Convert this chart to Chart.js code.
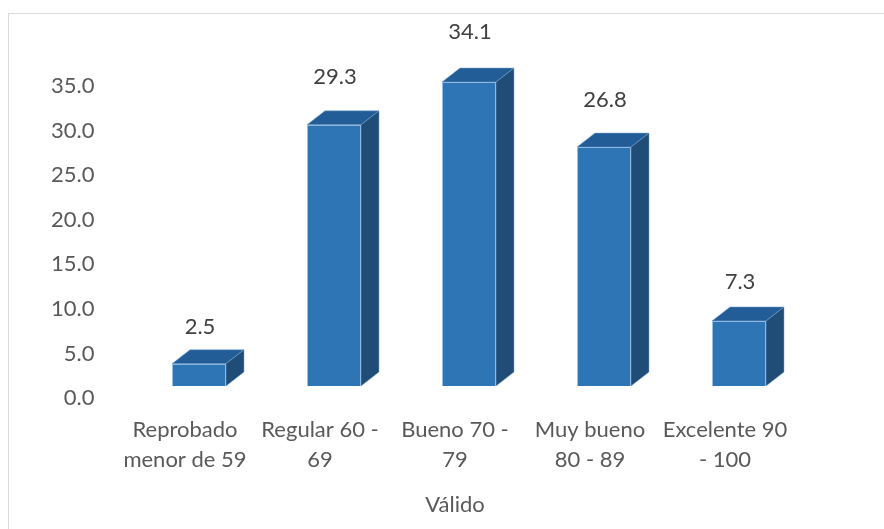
<!DOCTYPE html>
<html>
<head>
<meta charset="utf-8">
<script src="https://cdn.jsdelivr.net/npm/chart.js@4/dist/chart.umd.min.js"></script>
<style>
  body { margin: 0; background: #fff; }
  #wrap { position: relative; width: 884px; height: 529px; overflow: hidden; }
  #frame { position: absolute; left: 8px; top: 13px; width: 880px; height: 530px; border: 1px solid #d9d9d9; box-sizing: border-box; }
  #chart { position: absolute; left: 0; top: 0; }
</style>
</head>
<body>
<div id="wrap">
  <div id="frame"></div>
  <canvas id="chart" width="884" height="529"></canvas>
</div>
<script>
// data
const categories = [
    ['Reprobado', 'menor de 59'],
    ['Regular 60 -', '69'],
    ['Bueno 70 -', '79'],
    ['Muy bueno', '80 - 89'],
    ['Excelente 90', '- 100']
];
const values = [2.5, 29.3, 34.1, 26.8, 7.3];
const axisTitle = 'Válido';
const yMin = 0;
const yMax = 35;
const yStep = 5;

// 3D look: front face is shifted off the axis plane, then depth faces added
const SHIFT_X = 14, SHIFT_Y = -12;
const DEPTH_X = 18, DEPTH_Y = 14;
const FRONT = '#2e75b6';
const TOP = '#235d97';
const SIDE = '#1f4d78';
const EDGE = 'rgba(140,185,230,0.9)';
const FONT = "Lato, 'Open Sans', sans-serif";

const bar3d = {
    id: 'bar3d',
    beforeDatasetsDraw(chart) {
        chart.ctx.save();
        chart.ctx.translate(SHIFT_X, SHIFT_Y);
    },
    afterDatasetsDraw(chart) {
        const ctx = chart.ctx;
        ctx.restore();
        const meta = chart.getDatasetMeta(0);
        meta.data.forEach((el, i) => {
            const { x, y, base, width } = el.getProps(['x', 'y', 'base', 'width'], true);
            const left = x - width / 2 + SHIFT_X;
            const right = x + width / 2 + SHIFT_X;
            const top = y + SHIFT_Y;
            const bottom = base + SHIFT_Y;

            ctx.save();
            ctx.lineWidth = 1;
            ctx.strokeStyle = 'rgba(120,165,210,0.5)';

            // top face
            ctx.beginPath();
            ctx.moveTo(left, top);
            ctx.lineTo(left + DEPTH_X, top - DEPTH_Y);
            ctx.lineTo(right + DEPTH_X, top - DEPTH_Y);
            ctx.lineTo(right, top);
            ctx.closePath();
            ctx.fillStyle = TOP;
            ctx.fill();
            ctx.stroke();

            // side face
            ctx.beginPath();
            ctx.moveTo(right, top);
            ctx.lineTo(right + DEPTH_X, top - DEPTH_Y);
            ctx.lineTo(right + DEPTH_X, bottom - DEPTH_Y);
            ctx.lineTo(right, bottom);
            ctx.closePath();
            ctx.fillStyle = SIDE;
            ctx.fill();
            ctx.stroke();

            // value label
            ctx.fillStyle = '#404040';
            ctx.font = '22px ' + FONT;
            ctx.textAlign = 'center';
            ctx.textBaseline = 'middle';
            const ly = top - 36 - 0.045 * (base - y);
            ctx.fillText(values[i].toFixed(1), x + SHIFT_X + 1, ly);
            ctx.restore();
        });
    }
};

new Chart(document.getElementById('chart'), {
    type: 'bar',
    data: {
        labels: categories,
        datasets: [{
            data: values,
            backgroundColor: FRONT,
            borderColor: EDGE,
            borderWidth: 1,
            barPercentage: 0.4,
            categoryPercentage: 1,
            clip: false
        }]
    },
    options: {
        responsive: false,
        animation: false,
        layout: { padding: { top: 86, right: 91.5, left: 0, bottom: 0 } },
        plugins: {
            legend: { display: false },
            tooltip: { enabled: false }
        },
        scales: {
            x: {
                grid: { display: false, drawTicks: false },
                border: { display: false },
                afterFit: (scale) => { scale.height = 131; },
                ticks: {
                    color: '#595959',
                    padding: 17,
                    maxRotation: 0,
                    autoSkip: false,
                    font: { family: FONT, size: 22, lineHeight: 1.35 }
                },
                title: {
                    display: true,
                    text: axisTitle,
                    color: '#595959',
                    font: { family: FONT, size: 22, lineHeight: 1.2 },
                    padding: { top: 0, bottom: 11 }
                }
            },
            y: {
                min: yMin,
                max: yMax,
                grid: { display: false, drawTicks: false },
                border: { display: false },
                afterFit: (scale) => { scale.width = 117.5; },
                ticks: {
                    stepSize: yStep,
                    color: '#595959',
                    padding: 23,
                    font: { family: FONT, size: 22 },
                    callback: (v) => Number(v).toFixed(1)
                }
            }
        }
    },
    plugins: [bar3d]
});
</script>
</body>
</html>
